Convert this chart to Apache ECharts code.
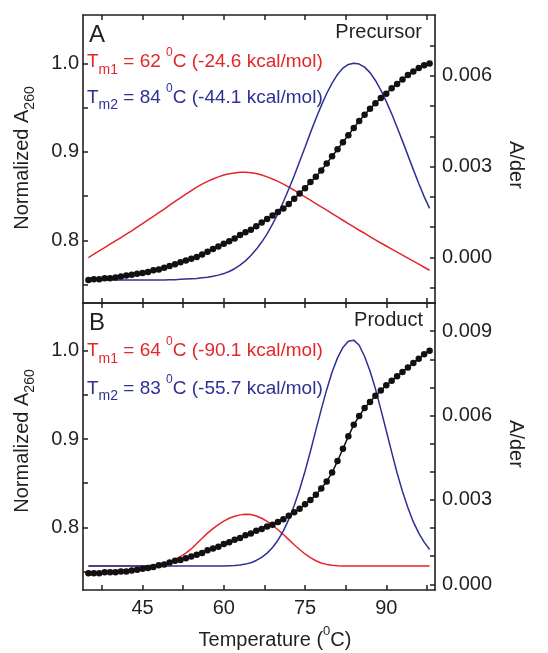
<!DOCTYPE html>
<html>
<head>
<meta charset="utf-8">
<script src="https://cdn.jsdelivr.net/npm/echarts@6.0.0/dist/echarts.min.js"></script>
<style>
html,body{margin:0;padding:0;background:#fff;}
#main{width:548px;height:653px;}
</style>
</head>
<body>
<div id="main"></div>
<script>
// temperatures of the measured points (deg C)
var temps = [35,36,37,38,39,40,41,42,43,44,45,46,47,48,49,50,51,52,53,54,55,56,57,58,59,60,61,62,63,64,
  65,66,67,68,69,70,71,72,73,74,75,76,77,78,79,80,81,82,83,84,85,86,87,88,89,90,91,92,93,94,95,96,97,98];

// panel A : precursor
var topA260 = [0.755,0.756,0.756,0.757,0.757,0.758,0.759,0.760,0.761,0.762,
  0.763,0.764,0.766,0.767,0.769,0.771,0.773,0.775,0.777,0.779,
  0.781,0.784,0.787,0.790,0.793,0.796,0.799,0.802,0.806,0.809,
  0.812,0.816,0.820,0.824,0.828,0.832,0.836,0.841,0.847,0.853,
  0.859,0.866,0.872,0.879,0.887,0.895,0.903,0.911,0.919,0.927,
  0.935,0.942,0.949,0.955,0.961,0.966,0.972,0.977,0.982,0.987,
  0.991,0.995,0.998,1.000];
var topDer1 = [0.00000,0.00011,0.00022,0.00033,0.00044,0.00055,0.00066,0.00077,0.00088,0.00100,
  0.00112,0.00124,0.00136,0.00148,0.00160,0.00173,0.00185,0.00197,0.00209,0.00221,
  0.00232,0.00242,0.00251,0.00259,0.00266,0.00272,0.00276,0.00279,0.00281,0.00281,
  0.00280,0.00277,0.00272,0.00266,0.00259,0.00251,0.00242,0.00232,0.00222,0.00211,
  0.00200,0.00189,0.00178,0.00167,0.00156,0.00145,0.00134,0.00123,0.00112,0.00101,
  0.00090,0.00080,0.00069,0.00058,0.00048,0.00038,0.00028,0.00018,0.00008,-0.00002,
  -0.00012,-0.00022,-0.00032,-0.00042];
var topDer2 = [-0.00074,-0.00074,-0.00074,-0.00074,-0.00074,-0.00074,-0.00074,-0.00074,-0.00074,-0.00074,
  -0.00074,-0.00074,-0.00074,-0.00074,-0.00074,-0.00073,-0.00073,-0.00072,-0.00071,-0.00070,
  -0.00069,-0.00067,-0.00065,-0.00062,-0.00058,-0.00053,-0.00046,-0.00037,-0.00025,-0.00011,
  0.00007,0.00027,0.00051,0.00078,0.00110,0.00145,0.00184,0.00226,0.00270,0.00317,
  0.00364,0.00412,0.00458,0.00501,0.00541,0.00575,0.00604,0.00625,0.00637,0.00641,
  0.00638,0.00628,0.00610,0.00584,0.00552,0.00515,0.00474,0.00430,0.00384,0.00337,
  0.00290,0.00244,0.00201,0.00162];

// panel B : product
var botA260 = [0.748,0.748,0.748,0.749,0.749,0.749,0.750,0.750,0.751,0.752,
  0.753,0.754,0.755,0.757,0.758,0.760,0.762,0.763,0.765,0.767,
  0.769,0.771,0.774,0.776,0.778,0.781,0.783,0.786,0.788,0.791,
  0.793,0.796,0.798,0.801,0.803,0.806,0.809,0.813,0.817,0.821,
  0.826,0.831,0.837,0.844,0.852,0.862,0.875,0.889,0.903,0.916,
  0.926,0.935,0.942,0.949,0.955,0.961,0.966,0.971,0.976,0.981,
  0.986,0.991,0.996,1.000];
var botDer1 = [0.00065,0.00065,0.00065,0.00065,0.00065,0.00065,0.00065,0.00065,0.00065,0.00065,
  0.00065,0.00066,0.00068,0.00071,0.00075,0.00081,0.00089,0.00099,0.00111,0.00126,
  0.00145,0.00164,0.00182,0.00198,0.00212,0.00225,0.00235,0.00242,0.00247,0.00249,
  0.00248,0.00243,0.00235,0.00224,0.00210,0.00194,0.00177,0.00159,0.00141,0.00124,
  0.00108,0.00095,0.00084,0.00076,0.00071,0.00068,0.00066,0.00065,0.00065,0.00065,
  0.00065,0.00065,0.00065,0.00065,0.00065,0.00065,0.00065,0.00065,0.00065,0.00065,
  0.00065,0.00065,0.00065,0.00065];
var botDer2 = [0.00065,0.00065,0.00065,0.00065,0.00065,0.00065,0.00065,0.00065,0.00065,0.00065,
  0.00065,0.00065,0.00065,0.00065,0.00065,0.00065,0.00065,0.00065,0.00065,0.00065,
  0.00065,0.00065,0.00065,0.00065,0.00065,0.00065,0.00066,0.00067,0.00069,0.00072,
  0.00077,0.00085,0.00096,0.00111,0.00131,0.00157,0.00190,0.00231,0.00280,0.00337,
  0.00402,0.00473,0.00548,0.00622,0.00692,0.00755,0.00805,0.00842,0.00864,0.00868,
  0.00850,0.00810,0.00758,0.00695,0.00622,0.00546,0.00470,0.00396,0.00330,0.00272,
  0.00222,0.00182,0.00150,0.00124];

// ticks and labels
var xTicks = [37.5,45,52.5,60,67.5,75,82.5,90,97.5];
var xLabels = [45,60,75,90];
var a260Ticks = [0.75,0.8,0.85,0.9,0.95,1.0];
var a260Labels = [0.8,0.9,1.0];
var derTicksTop = [-0.001,0,0.001,0.002,0.003,0.004,0.005,0.006,0.007];
var derLabelsTop = [0,0.003,0.006];
var derTicksBot = [0,0.001,0.002,0.003,0.004,0.005,0.006,0.007,0.008,0.009];
var derLabelsBot = [0,0.003,0.006,0.009];

var FONT = '"Liberation Sans", Arial, sans-serif';
var INK = '#231f20';
var RED = '#e3262b';
var BLUE = '#2e3192';

function pairs(xs, ys) {
    var out = [];
    for (var i = 0; i < xs.length; i++) out.push([xs[i], ys[i]]);
    return out;
}

function xAx(grid, pos, labels) {
    return {
        type: 'value', gridIndex: grid, position: pos, min: 34, max: 99,
        axisLine: {show: true, onZero: false, lineStyle: {color: INK, width: 1.6}},
        axisTick: {show: true, inside: true, length: 5, customValues: xTicks, lineStyle: {color: INK, width: 1.5}},
        axisLabel: {show: !!labels, customValues: labels || [], margin: 8, fontSize: 20, fontFamily: FONT, color: INK},
        splitLine: {show: false}
    };
}
function yAx(grid, pos, min, max, ticks, labels, digits, margin) {
    return {
        type: 'value', gridIndex: grid, position: pos, min: min, max: max,
        axisLine: {show: true, onZero: false, lineStyle: {color: INK, width: 1.6}},
        axisTick: {show: true, inside: true, length: 5, customValues: ticks, lineStyle: {color: INK, width: 1.5}},
        axisLabel: {show: true, customValues: labels, margin: margin, fontSize: 20, fontFamily: FONT, color: INK,
            formatter: function (v) { return v.toFixed(digits); }},
        splitLine: {show: false}
    };
}

function dots(xi, yi, data) {
    return {type: 'line', xAxisIndex: xi, yAxisIndex: yi, data: data, symbol: 'circle', symbolSize: 6.5,
        lineStyle: {color: '#111', width: 1.5}, itemStyle: {color: '#111'}, z: 5};
}
function curve(xi, yi, data, color) {
    return {type: 'line', xAxisIndex: xi, yAxisIndex: yi, data: data, showSymbol: false,
        lineStyle: {color: color, width: 1.5}, z: 3};
}

// rich text helpers for the annotations
function tmText(color, y, idx, tm, dh) {
    return {
        type: 'text', x: 87, y: y, silent: true,
        style: {
            text: '{t|T}{s|m' + idx + '}{t| = ' + tm + ' }{p|0}{t|C (' + dh + ' kcal/mol)}',
            align: 'left', verticalAlign: 'top', fill: color,
            rich: {
                t: {fontSize: 19, fontFamily: FONT, lineHeight: 30, verticalAlign: 'middle', fill: color},
                s: {fontSize: 14, fontFamily: FONT, lineHeight: 14, verticalAlign: 'bottom', fill: color},
                p: {fontSize: 12, fontFamily: FONT, lineHeight: 18, verticalAlign: 'top', fill: color}
            }
        }
    };
}
function plain(txt, x, y, size, align, rot) {
    return {type: 'text', x: x, y: y, rotation: rot || 0, silent: true,
        style: {text: txt, fontSize: size, fontFamily: FONT, fill: INK, align: align, verticalAlign: 'middle'}};
}
function a260Name(y) {
    return {type: 'text', x: 22, y: y, rotation: Math.PI / 2, silent: true,
        style: {text: '{n|Normalized A}{s|260}', align: 'center', verticalAlign: 'middle', fill: INK,
            rich: {
                n: {fontSize: 20, fontFamily: FONT, lineHeight: 30, verticalAlign: 'middle', fill: INK},
                s: {fontSize: 14, fontFamily: FONT, lineHeight: 14, verticalAlign: 'bottom', fill: INK}
            }}};
}

var myChart = echarts.init(document.getElementById('main'), null, {renderer: 'canvas'});
var option = {
    animation: false,
    backgroundColor: '#fff',
    grid: [
        {left: 83, right: 113, top: 15, height: 288},
        {left: 83, right: 113, top: 303, height: 287}
    ],
    xAxis: [
        xAx(0, 'bottom', null),
        xAx(0, 'top', null),
        xAx(1, 'bottom', xLabels),
        xAx(1, 'top', null)
    ],
    yAxis: [
        yAx(0, 'left', 0.729, 1.055, a260Ticks, a260Labels, 1, 4),
        yAx(0, 'right', -0.0015, 0.008, derTicksTop, derLabelsTop, 3, 7),
        yAx(1, 'left', 0.729, 1.054, a260Ticks, a260Labels, 1, 4),
        yAx(1, 'right', -0.0002, 0.01, derTicksBot, derLabelsBot, 3, 7)
    ],
    series: [
        curve(0, 1, pairs(temps, topDer1), RED),
        curve(0, 1, pairs(temps, topDer2), BLUE),
        dots(0, 0, pairs(temps, topA260)),
        curve(2, 3, pairs(temps, botDer1), RED),
        curve(2, 3, pairs(temps, botDer2), BLUE),
        dots(2, 2, pairs(temps, botA260))
    ],
    graphic: [
        plain('A', 89, 35.5, 24, 'left'),
        plain('Precursor', 422, 32, 20, 'right'),
        plain('B', 89, 323.5, 24, 'left'),
        plain('Product', 423, 320, 20, 'right'),
        tmText(RED, 46.7, 1, 62, '-24.6'),
        tmText(BLUE, 82.4, 2, 84, '-44.1'),
        tmText(RED, 335.7, 1, 64, '-90.1'),
        tmText(BLUE, 373.4, 2, 83, '-55.7'),
        a260Name(158),
        a260Name(441),
        plain('A/der', 516, 165, 20, 'center', -Math.PI / 2),
        plain('A/der', 516, 444, 20, 'center', -Math.PI / 2),
        {type: 'text', x: 275, y: 625, silent: true,
            style: {text: '{t|Temperature (}{p|0}{t|C)}', align: 'center', verticalAlign: 'top', fill: INK,
                rich: {
                    t: {fontSize: 20, fontFamily: FONT, lineHeight: 30, verticalAlign: 'middle', fill: INK},
                    p: {fontSize: 13, fontFamily: FONT, lineHeight: 24, verticalAlign: 'top', fill: INK}
                }}}
    ]
};
myChart.setOption(option);
</script>
</body>
</html>
